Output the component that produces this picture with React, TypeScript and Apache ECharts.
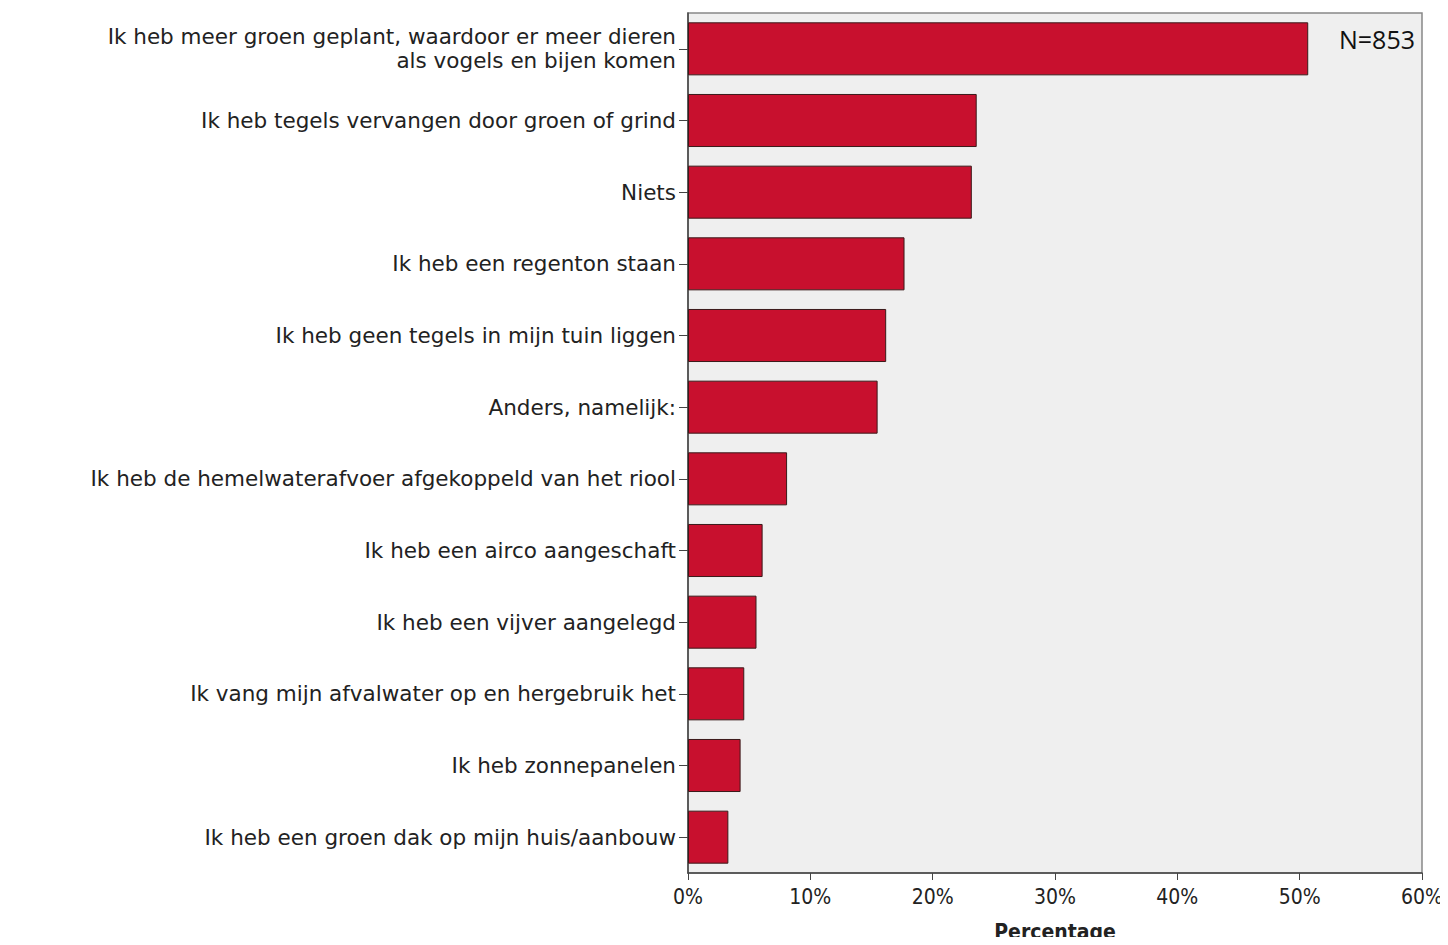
import React, { useEffect, useRef } from "react";
import * as echarts from "echarts";

const categories = [
  "Ik heb meer groen geplant, waardoor er meer dieren\nals vogels en bijen komen",
  "Ik heb tegels vervangen door groen of grind",
  "Niets",
  "Ik heb een regenton staan",
  "Ik heb geen tegels in mijn tuin liggen",
  "Anders, namelijk:",
  "Ik heb de hemelwaterafvoer afgekoppeld van het riool",
  "Ik heb een airco aangeschaft",
  "Ik heb een vijver aangelegd",
  "Ik vang mijn afvalwater op en hergebruik het",
  "Ik heb zonnepanelen",
  "Ik heb een groen dak op mijn huis/aanbouw",
];
const percentages = [50.7, 23.6, 23.2, 17.7, 16.2, 15.5, 8.1, 6.1, 5.6, 4.6, 4.3, 3.3];
const xTicks = { min: 0, max: 60, interval: 10 };
const sampleLabel = "N=853";

export default function App() {
  const ref = useRef<HTMLDivElement>(null);
  useEffect(() => {
    if (!ref.current) return;
    const chart = echarts.init(ref.current, null, { renderer: "svg" });
    chart.setOption({
      animation: false,
      title: {
        text: sampleLabel,
        right: 28,
        top: 21,
        textStyle: { fontFamily: "Open Sans", fontSize: 25, fontWeight: "normal", color: "#111" },
      },
      grid: {
        left: 688,
        right: 26,
        top: 13,
        bottom: 72,
        outerBoundsMode: "none",
        containLabel: false,
        show: true,
        backgroundColor: "#efefef",
        borderColor: "#888",
        borderWidth: 1.5,
      },
      xAxis: {
        type: "value",
        min: xTicks.min,
        max: xTicks.max,
        interval: xTicks.interval,
        splitLine: { show: false },
        axisLine: { show: true, lineStyle: { color: "#444", width: 1.5 } },
        axisTick: { show: true, length: 7, lineStyle: { color: "#444" } },
        axisLabel: {
          formatter: "{value}%",
          fontFamily: "DejaVu Sans Condensed",
          fontSize: 21,
          color: "#222",
          margin: 13,
        },
        name: "Percentage",
        nameLocation: "middle",
        nameGap: 48,
        nameMoveOverlap: false,
        nameTextStyle: { fontFamily: "DejaVu Sans Condensed", fontSize: 21, fontWeight: "bold", color: "#222" },
      },
      yAxis: {
        type: "category",
        data: categories,
        inverse: true,
        axisLine: { show: true, lineStyle: { color: "#444", width: 1.5 } },
        axisTick: { show: true, alignWithLabel: true, length: 9, lineStyle: { color: "#444" } },
        axisLabel: {
          fontFamily: "DejaVu Sans",
          fontSize: 21.5,
          color: "#222",
          margin: 12,
          lineHeight: 24,
          align: "right",
        },
      },
      series: [
        {
          type: "bar",
          data: percentages,
          barCategoryGap: "26%",
          itemStyle: { color: "#c8102e", borderColor: "#3a1a1a", borderWidth: 1 },
        },
      ],
    });
    return () => chart.dispose();
  }, []);
  return <div ref={ref} style={{ width: 1448, height: 945, margin: -8 }} />;
}
